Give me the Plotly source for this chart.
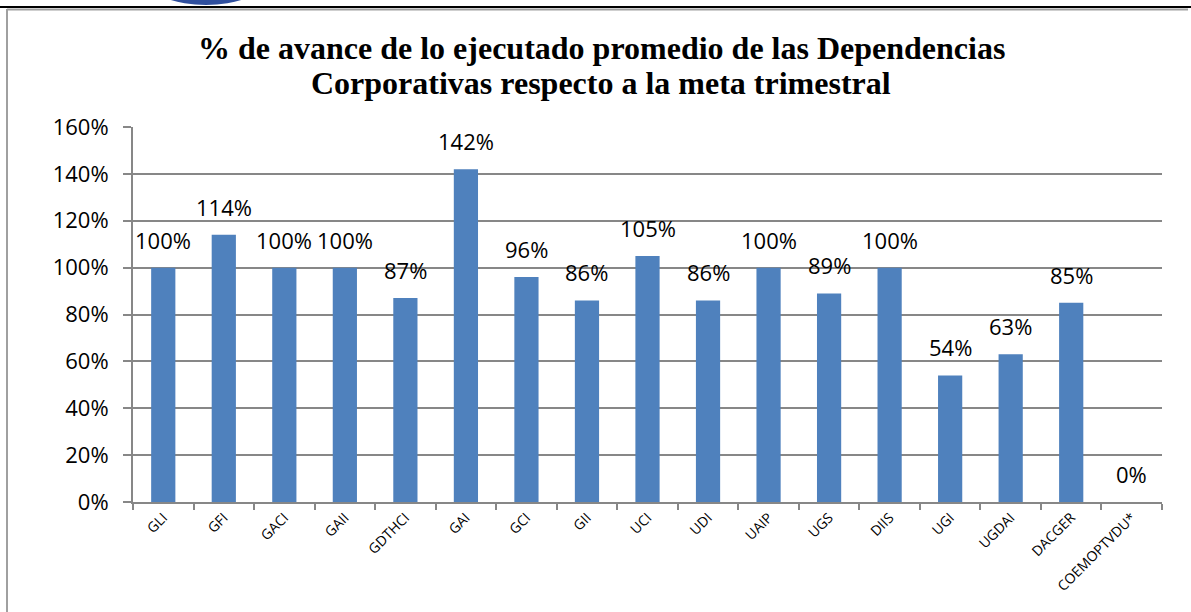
import plotly.graph_objects as go

categories = ["GLI", "GFI", "GACI", "GAII", "GDTHCI", "GAI", "GCI", "GII", "UCI", "UDI",
              "UAIP", "UGS", "DIIS", "UGI", "UGDAI", "DACGER", "COEMOPTVDU*"]
values = [1.00, 1.14, 1.00, 1.00, 0.87, 1.42, 0.96, 0.86, 1.05, 0.86,
          1.00, 0.89, 1.00, 0.54, 0.63, 0.85, 0.00]
labels = [f"{round(v*100)}%" for v in values]
title_lines = ["% de avance de lo ejecutado promedio de las Dependencias",
               "Corporativas respecto a la meta trimestral"]

W, H = 1191, 612
L, R, T, B = 133, 1162, 127, 502

def px(x):
    return (x - L) / (R - L)

def py(y):
    return (B - y) / (B - T)

fig = go.Figure(go.Bar(
    x=categories, y=values,
    marker=dict(color="#4F81BD", line=dict(width=0)),
    cliponaxis=False, width=0.4, hoverinfo="x+y",
))

label_font = dict(family="Open Sans", size=22, color="black")
annotations = [
    dict(text=t, x=c, y=v, xref="x", yref="y", xanchor="center", yanchor="middle",
         yshift=28, showarrow=False, font=label_font)
    for c, v, t in zip(categories, values, labels)
]

grid = "#878787"
title_font = dict(family="Liberation Serif", size=32, color="black", weight="bold")
annotations += [
    dict(text=title_lines[0], xref="paper", yref="paper", x=px(601), y=py(48),
         xanchor="center", yanchor="middle", showarrow=False, font=title_font),
    dict(text=title_lines[1], xref="paper", yref="paper", x=px(601), y=py(83),
         xanchor="center", yanchor="middle", showarrow=False, font=title_font),
]

fig.update_layout(
    width=W, height=H,
    margin=dict(l=L, r=W - R, t=T, b=H - B),
    paper_bgcolor="white", plot_bgcolor="white",
    showlegend=False,
    xaxis=dict(
        type="category", showgrid=False, showline=True, linecolor=grid, linewidth=2,
        ticks="outside", ticklen=6, tickcolor=grid, tickwidth=2, tickson="boundaries",
        tickangle=-45, tickfont=dict(family="Open Sans", size=14, color="black"),
        range=[-0.5, len(categories) - 0.5],
    ),
    yaxis=dict(
        range=[0, 1.6], dtick=0.2, tickformat=".0%", showgrid=True, gridcolor=grid,
        gridwidth=2, showline=True, linecolor=grid, linewidth=2, ticks="outside",
        ticklen=8, tickcolor=grid, tickwidth=2, zeroline=False,
        tickfont=dict(family="Open Sans", size=22, color="black"),
        ticklabelstandoff=10,
    ),
    annotations=annotations,
    shapes=[
        dict(type="circle", xref="paper", yref="paper", x0=px(150), x1=px(262),
             y0=py(-40), y1=py(5), fillcolor="#2F4F9E", line=dict(width=0), layer="below"),
        dict(type="line", xref="paper", yref="paper", x0=px(0), x1=px(W),
             y0=py(7), y1=py(7), line=dict(color="black", width=2)),
        dict(type="line", xref="paper", yref="paper", x0=px(7), x1=px(1188),
             y0=py(9.5), y1=py(9.5), line=dict(color="#A0A0A0", width=2)),
        dict(type="line", xref="paper", yref="paper", x0=px(7), x1=px(7),
             y0=py(9), y1=py(H + 5), line=dict(color="#A0A0A0", width=2)),
    ],
)

fig.write_html("out.html", config={"displayModeBar": False},
               post_script="document.body.style.margin='0';document.body.style.overflow='hidden';")
